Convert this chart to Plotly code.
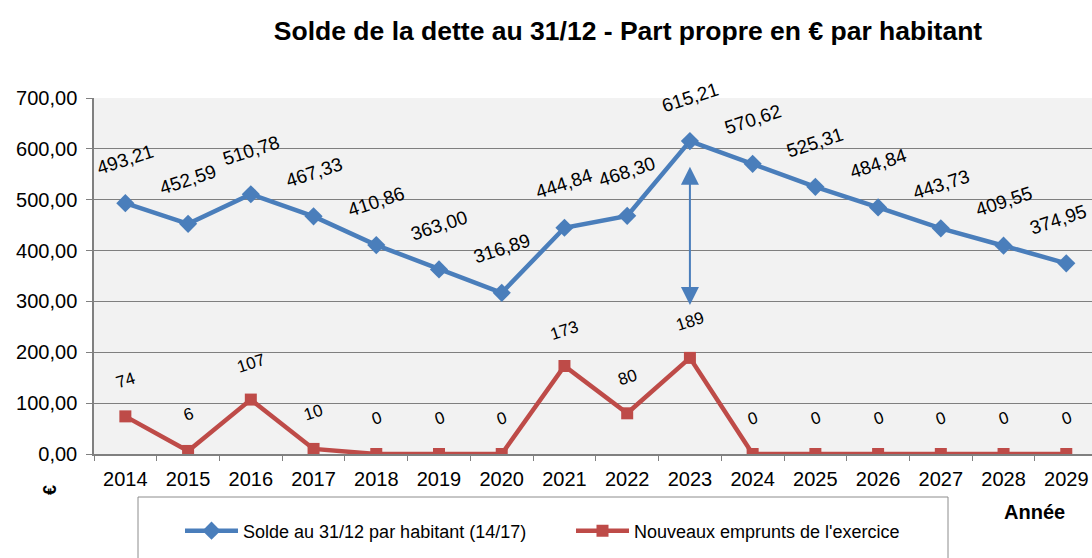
import plotly.graph_objects as go

years = ["2014", "2015", "2016", "2017", "2018", "2019", "2020", "2021",
         "2022", "2023", "2024", "2025", "2026", "2027", "2028", "2029"]
solde = [493.21, 452.59, 510.78, 467.33, 410.86, 363.00, 316.89, 444.84,
         468.30, 615.21, 570.62, 525.31, 484.84, 443.73, 409.55, 374.95]
emprunts = [74, 6, 107, 10, 0, 0, 0, 173, 80, 189, 0, 0, 0, 0, 0, 0]

y_ticks = [0, 100, 200, 300, 400, 500, 600, 700]

BLUE = "#4A7EBB"
RED = "#BE4B48"
FONT = "Arial, 'Liberation Sans', sans-serif"

PL, PT, PR, PB = 94, 98, 1092, 454          # plot area in screen pixels
PW, PH = PR - PL, PB - PT


def px(x):
    return (x - PL) / PW


def py(y):
    return (PB - y) / PH


fig = go.Figure()
fig.add_trace(go.Scatter(
    x=years, y=solde, mode="lines+markers",
    name="Solde au 31/12 par habitant (14/17)",
    line=dict(color=BLUE, width=4.5),
    marker=dict(symbol="diamond", size=14, color=BLUE),
))
fig.add_trace(go.Scatter(
    x=years, y=emprunts, mode="lines+markers",
    name="Nouveaux emprunts de l'exercice",
    line=dict(color=RED, width=4.5),
    marker=dict(symbol="square", size=12, color=RED),
))

annotations = []
last = len(solde) - 1
for i, v in enumerate(solde):
    annotations.append(dict(
        x=i, y=v, xref="x", yref="y", showarrow=False,
        text=f"{v:.2f}".replace(".", ","), textangle=-18, yshift=44,
        xshift=-8 if i == last else 0,
        font=dict(family=FONT, size=19, color="#000000"),
    ))
for i, v in enumerate(emprunts):
    annotations.append(dict(
        x=i, y=v, xref="x", yref="y", showarrow=False,
        text=f"{v:d}", textangle=-18, yshift=36,
        font=dict(family=FONT, size=17, color="#000000"),
    ))

# double-headed arrow at 2023
i23 = years.index("2023")
annotations.append(dict(
    x=i23, y=565, xref="x", yref="y",
    ax=i23, ay=290, axref="x", ayref="y",
    text="", showarrow=True, arrowhead=2, arrowside="end+start",
    arrowsize=1.8, arrowwidth=2, arrowcolor=BLUE, standoff=0, startstandoff=0,
))

annotations.append(dict(
    x=px(50), y=py(490), xref="paper", yref="paper", showarrow=False,
    xanchor="center", yanchor="middle",
    text="<b>€</b>", textangle=-90,
    font=dict(family=FONT, size=18, color="#000000"),
))
annotations.append(dict(
    x=px(1034), y=py(512), xref="paper", yref="paper",
    xanchor="center", yanchor="middle",
    showarrow=False, text="<b>Année</b>",
    font=dict(family=FONT, size=20, color="#000000"),
))

W, H = 1092, 558
fig.update_layout(
    width=W, height=H,
    margin=dict(l=PL, r=W - PR, t=PT, b=H - PB),
    paper_bgcolor="#FFFFFF",
    plot_bgcolor="#F2F2F2",
    separators=", ",
    font=dict(family=FONT, size=20, color="#000000"),
    title=dict(
        text="<b>Solde de la dette au 31/12 - Part propre en € par habitant</b>",
        x=628 / W, xanchor="center", y=1 - 31 / H, yanchor="middle",
        font=dict(family=FONT, size=26.5, color="#000000"),
    ),
    xaxis=dict(
        type="category", range=[-0.5, 15.41],
        tickson="boundaries", ticks="outside", ticklen=5, tickcolor="#808080",
        showgrid=False, showline=True, linecolor="#808080", linewidth=1.5,
        tickfont=dict(family=FONT, size=20, color="#000000"),
        ticklabelstandoff=6,
        zeroline=False,
    ),
    yaxis=dict(
        range=[0, 700], tickvals=y_ticks, tickformat=".2f",
        ticks="outside", ticklen=6, tickcolor="#808080",
        showgrid=True, gridcolor="#7F7F7F", gridwidth=1,
        showline=True, linecolor="#808080", linewidth=1.5,
        zeroline=False,
        tickfont=dict(family=FONT, size=20, color="#000000"),
        ticklabelstandoff=5,
    ),
    legend=dict(
        orientation="h", x=px(180), xanchor="left",
        y=py(531), yanchor="middle",
        bgcolor="rgba(0,0,0,0)", borderwidth=0,
        font=dict(family=FONT, size=18, color="#000000"),
        entrywidth=323, itemwidth=53,
    ),
    shapes=[dict(
        type="rect", xref="paper", yref="paper",
        x0=px(138), x1=px(948),
        y0=py(497), y1=py(575),
        line=dict(color="#8C8C8C", width=1), fillcolor="#FFFFFF", layer="below",
    )],
    annotations=annotations,
)

fig.write_html(
    "out.html",
    config={"displayModeBar": False},
    post_script="document.body.style.margin='0';document.body.style.overflow='hidden';",
)
